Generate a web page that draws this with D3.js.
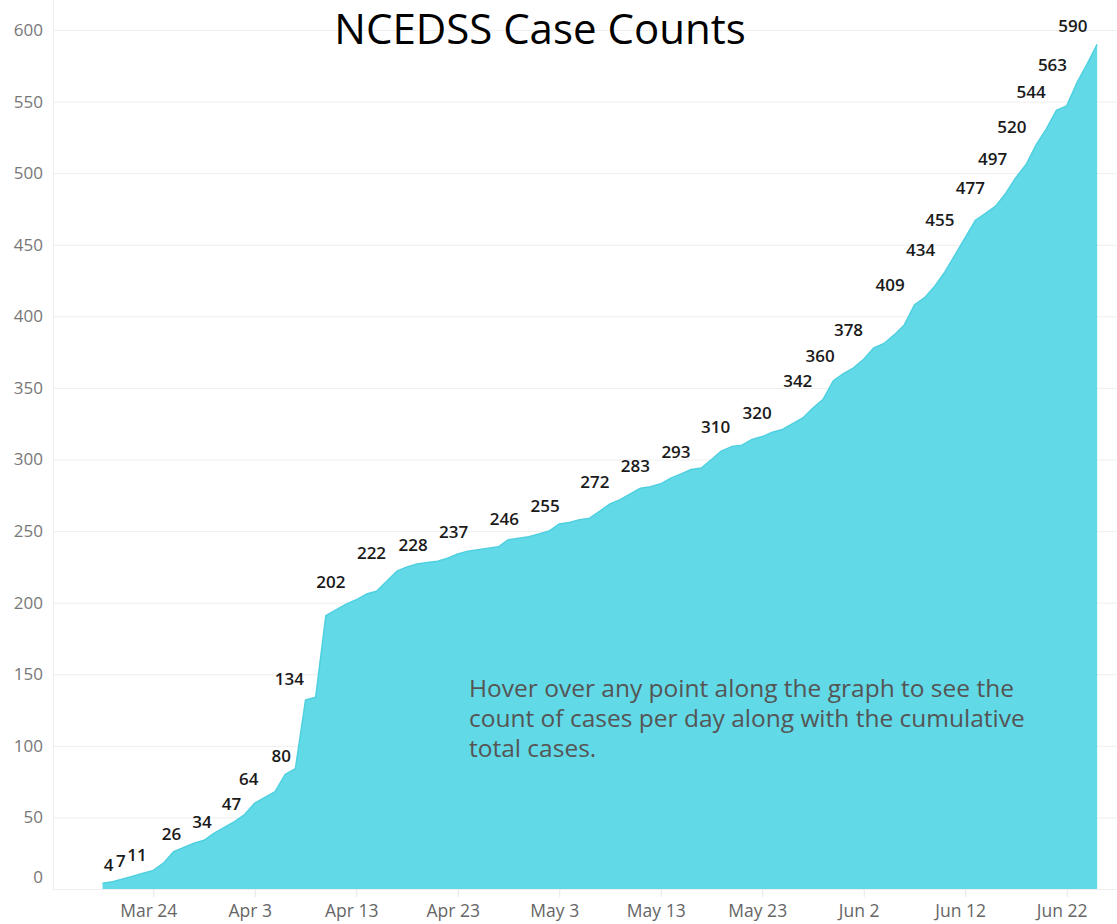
<!doctype html>
<html>

<head>
  <meta charset="utf8"/>
  <style>
    body { margin: 0; background: #fff; }
    text { font-family: 'Segoe UI', 'Open Sans', sans-serif; }
  </style>
</head>

<body>
  <svg width='1117' height='924'></svg>
  <script src="https://cdn.jsdelivr.net/npm/d3@7"></script>

  <script>

    // cumulative cases, one per day starting Mar 19 2020
    var startDate = new Date(2020, 2, 19);
    var cases = [
      4, 5, 7, 9, 11, 13, 18, 26, 29, 32, 34, 39, 43, 47, 52, 60, 64, 68, 80, 84,
      132, 134, 191, 195, 199, 202, 206, 208, 215, 222, 225, 227, 228, 229, 231, 234, 236, 237, 238, 239,
      244, 245, 246, 248, 250, 255, 256, 258, 259, 264, 269, 272, 276, 280, 281, 283, 287, 290, 293, 294,
      300, 306, 309, 310, 314, 316, 319, 321, 325, 329, 336, 342, 355, 360, 364, 370, 378, 381, 387, 394,
      408, 413, 421, 431, 443, 455, 467, 472, 477, 486, 497, 506, 520, 531, 544, 547, 563, 576, 590
    ];

    // data labels: value shown and the day (offset from start) it sits over
    var labelValues = [4, 7, 11, 26, 34, 47, 64, 80, 134, 202, 222, 228, 237, 246, 255, 272,
                       283, 293, 310, 320, 342, 360, 378, 409, 434, 455, 477, 497, 520, 544, 563, 590];
    var labelDays = [0.6, 1.8, 3.4, 6.8, 9.8, 12.7, 14.4, 17.6, 18.4, 22.5, 26.5, 30.6, 34.6, 39.6, 43.6, 48.5,
                     52.5, 56.5, 60.4, 64.5, 68.5, 70.7, 73.5, 77.6, 80.6, 82.5, 85.5, 87.7, 89.6, 91.5, 93.6, 95.6];

    var xTickDates = ['2020-03-24', '2020-04-03', '2020-04-13', '2020-04-23', '2020-05-03',
                      '2020-05-13', '2020-05-23', '2020-06-02', '2020-06-12', '2020-06-22'];
    var yTicks = [0, 50, 100, 150, 200, 250, 300, 350, 400, 450, 500, 550, 600];

    var noteLines = ['Hover over any point along the graph to see the',
                     'count of cases per day along with the cumulative',
                     'total cases.'];

    var svg = d3.select('svg'),
        plotLeft = 53, plotRight = 1117, plotTop = 30, plotBottom = 889;

    var parseDate = d3.timeParse('%Y-%m-%d');
    var data = cases.map(function(v, i) {
      return {date: d3.timeDay.offset(startDate, i), value: v};
    });
    var tickDates = xTickDates.map(parseDate);

    var x = d3.scaleTime()
              .domain([tickDates[0], tickDates[tickDates.length - 1]])
              .range([153.3, 1066.7]);
    var y = d3.scaleLinear()
              .domain([0, 600])
              .range([plotBottom, plotTop]);

    // gridlines
    svg.append('g')
       .selectAll('line')
       .data(yTicks)
       .join('line')
         .attr('x1', plotLeft)
         .attr('x2', plotRight)
         .attr('y1', function(d) { return y(d) + 0.5; })
         .attr('y2', function(d) { return y(d) + 0.5; })
         .attr('stroke', '#eeeeee')
         .attr('stroke-width', 1);

    svg.append('line')
       .attr('x1', plotLeft + 0.5).attr('x2', plotLeft + 0.5)
       .attr('y1', 0).attr('y2', plotBottom)
       .attr('stroke', '#eeeeee');

    // y labels
    svg.append('g')
       .selectAll('text')
       .data(yTicks)
       .join('text')
         .attr('x', 43)
         .attr('y', function(d) { return d === 0 ? y(d) - 12 : y(d); })
         .attr('dy', '0.35em')
         .attr('text-anchor', 'end')
         .attr('fill', '#777777')
         .attr('font-size', 17)
         .text(function(d) { return d; });

    // x axis
    var xAxis = svg.append('g')
       .attr('transform', 'translate(0,' + plotBottom + ')')
       .call(d3.axisBottom(x)
               .tickValues(tickDates)
               .tickSize(8)
               .tickFormat(d3.timeFormat('%b %-d')));
    xAxis.select('.domain').remove();
    xAxis.selectAll('.tick line').attr('stroke', '#e6e6e6');
    xAxis.selectAll('.tick text')
         .attr('dx', -5)
         .attr('y', 16)
         .attr('fill', '#666666')
         .attr('font-size', 17.5)
         .attr('font-family', "'Segoe UI', 'Open Sans', sans-serif");

    // area
    var area = d3.area()
                 .x(function(d) { return x(d.date); })
                 .y0(y(0))
                 .y1(function(d) { return y(d.value); });
    var line = d3.line()
                 .x(function(d) { return x(d.date); })
                 .y(function(d) { return y(d.value); });

    svg.append('path')
       .datum(data)
       .attr('fill', '#62d9e7')
       .attr('d', area);
    svg.append('path')
       .datum(data)
       .attr('fill', 'none')
       .attr('stroke', '#4fd0e1')
       .attr('stroke-width', 1.5)
       .attr('stroke-linejoin', 'round')
       .attr('d', line);

    // data labels
    svg.append('g')
       .selectAll('text')
       .data(labelValues)
       .join('text')
         .attr('x', function(d, i) {
           return x(new Date(startDate.getTime() + labelDays[i] * 864e5));
         })
         .attr('y', function(d) { return y(d) - 12; })
         .attr('text-anchor', 'middle')
         .attr('font-size', 17)
         .attr('font-weight', 600)
         .attr('fill', '#1a1a1a')
         .text(function(d) { return d; });

    // title
    svg.append('text')
       .attr('x', 540)
       .attr('y', 44)
       .attr('text-anchor', 'middle')
       .attr('font-size', 42)
       .attr('fill', '#000')
       .text('NCEDSS Case Counts');

    // note
    svg.append('g')
       .selectAll('text')
       .data(noteLines)
       .join('text')
         .attr('x', 469)
         .attr('y', function(d, i) { return 697 + i * 30; })
         .attr('font-size', 24.5)
         .attr('fill', '#555555')
         .text(function(d) { return d; });
  </script>
</body>

</html>
